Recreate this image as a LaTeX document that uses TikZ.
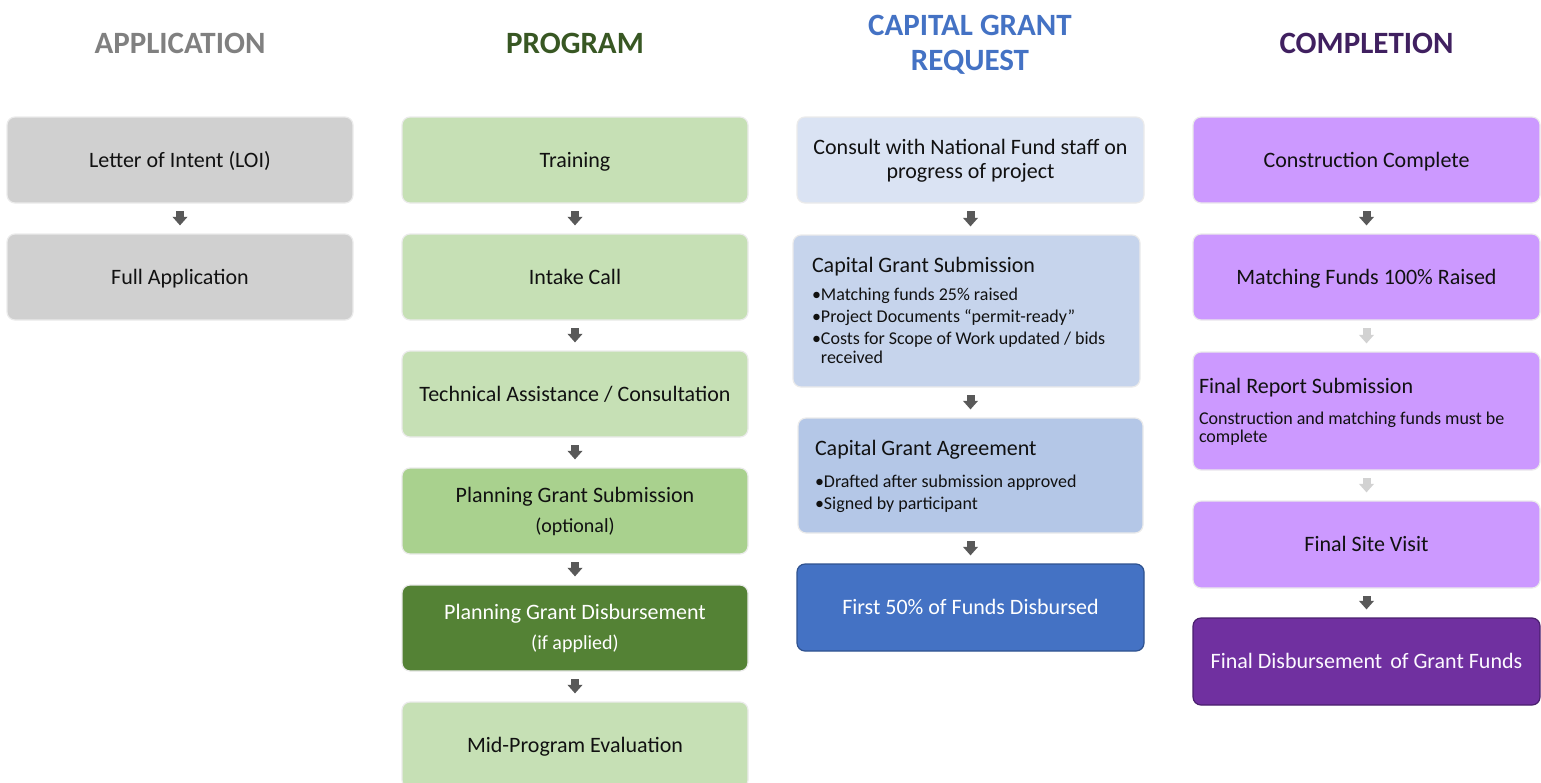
\documentclass[tikz,border=0pt]{standalone}
\usepackage{fontspec}
\setmainfont{Carlito}
\usetikzlibrary{arrows.meta}
\definecolor{txt}{HTML}{111111}
\definecolor{hApp}{HTML}{808080}
\definecolor{hProg}{HTML}{385723}
\definecolor{hCap}{HTML}{4472C4}
\definecolor{hComp}{HTML}{402060}
\definecolor{gbox}{HTML}{D0D0D0}
\definecolor{lgreen}{HTML}{C6E0B5}
\definecolor{mgreen}{HTML}{A9D18E}
\definecolor{dgreen}{HTML}{548235}
\definecolor{blue1}{HTML}{DAE3F3}
\definecolor{blue2}{HTML}{C6D4EC}
\definecolor{blue3}{HTML}{B4C7E7}
\definecolor{blue4}{HTML}{4472C4}
\definecolor{blue4d}{HTML}{2F528F}
\definecolor{lpurple}{HTML}{CC99FF}
\definecolor{dpurple}{HTML}{7030A0}
\definecolor{dpurpled}{HTML}{4A1F6E}
\definecolor{arrdark}{HTML}{595959}
\definecolor{arrlight}{HTML}{D2D2D2}
\newcommand{\mytopstrut}{\rule{0pt}{17pt}}
\newcommand{\mybotstrut}{\rule[-3pt]{0pt}{3pt}}
\newcommand{\mysetup}{\parindent=0pt\lineskiplimit=-30pt\lineskip=0pt\spaceskip=0pt\xspaceskip=0pt}
\begin{document}
\begin{tikzpicture}[x=1pt,y=-1pt,
  box/.style={rounded corners=8pt, minimum width=346pt, minimum height=86pt,
    draw=black!8, line width=1.2pt, inner sep=0pt, text=txt,
    font=\fontsize{22}{26}\selectfont},
  oneline/.style={text height=17pt, text depth=3pt},
  head/.style={font=\bfseries\fontsize{31}{35}\selectfont, anchor=base, inner sep=0pt},
  arr/.style={line width=8pt, draw=arrdark, -{Triangle[width=14.5pt,length=8.5pt]},
    shorten <=7.5pt, shorten >=8pt},
  arrl/.style={arr, draw=arrlight}
]
\useasboundingbox (0,0) rectangle (1541,782);
\clip (0,0) rectangle (1541,782);

% headers
\node[head, text=hApp] (hA) at (180,53) {APPLICATION};
\node[head, text=hProg] (hP) at (575,53) {PROGRAM};
\node[head, text=hCap] (hC) at (970,35) {\parbox[t]{320pt}{\centering CAPITAL GRANT\\REQUEST}};
\node[head, text=hComp] (hM) at (1366.5,53) {COMPLETION};

% column 1
\node[box, oneline, fill=gbox] (loi) at (180,160) {Letter of Intent (LOI)};
\node[box, oneline, fill=gbox] (fa) at (180,277) {Full Application};

% column 2
\node[box, oneline, fill=lgreen] (tr) at (575,160) {Training};
\node[box, oneline, fill=lgreen] (ic) at (575,277) {Intake Call};
\node[box, oneline, fill=lgreen] (ta) at (575,394) {Technical Assistance / Consultation};
\node[box, fill=mgreen, text width=336pt] (pgs) at (575,511)
  {\mysetup\centering{\mytopstrut Planning Grant Submission\par}
   \fontsize{20}{30}\selectfont (optional)\mybotstrut\par};
\node[box, fill=dgreen, text=white, text width=336pt] (pgd) at (575,628)
  {\mysetup\centering{\mytopstrut Planning Grant Disbursement\par}
   \fontsize{20}{30}\selectfont (if applied)\mybotstrut\par};
\node[box, oneline, fill=lgreen] (mpe) at (575,745) {Mid-Program Evaluation};

% column 3
\node[box, fill=blue1, minimum width=347pt, text width=337pt] (con) at (970.5,160)
  {\mysetup\centering\fontsize{22}{24}\selectfont\mytopstrut Consult with National Fund staff on\par
   progress of project\mybotstrut\par};
\node[box, fill=blue2, minimum width=347pt, minimum height=152pt, text width=309pt,
  inner xsep=19pt] (cgs) at (966.5,311)
  {\mysetup\raggedright{\fontsize{22}{26}\selectfont\mytopstrut Capital Grant Submission\par}
   \fontsize{18}{18}\selectfont
   \vspace{10pt}•Matching funds 25\% raised\par
   \vspace{4pt}•Project Documents “permit-ready”\par
   \vspace{4pt}•Costs for Scope of Work updated / bids\par
   \vspace{1pt}\phantom{•}received\mybotstrut\par};
\node[box, fill=blue3, minimum width=345pt, minimum height=115pt, text width=311pt,
  inner xsep=17pt] (cga) at (970.5,475.5)
  {\mysetup\raggedright{\fontsize{22}{26}\selectfont\mytopstrut Capital Grant Agreement\par}
   \fontsize{18}{18}\selectfont
   \vspace{14pt}•Drafted after submission approved\par
   \vspace{4pt}•Signed by participant\mybotstrut\par};
\node[box, oneline, fill=blue4, draw=blue4d, text=white, minimum width=347pt, minimum height=87pt]
  (f50) at (970.5,607.5) {First 50\% of Funds Disbursed};

% column 4
\node[box, oneline, fill=lpurple, minimum width=347pt] (cc) at (1366.5,160) {Construction Complete};
\node[box, oneline, fill=lpurple, minimum width=347pt] (mf) at (1366.5,277) {Matching Funds 100\% Raised};
\node[box, fill=lpurple, minimum width=347pt, minimum height=118pt, text width=335pt,
  inner xsep=6pt] (frs) at (1366.5,411)
  {\mysetup\raggedright{\fontsize{22}{26}\selectfont\mytopstrut Final Report Submission\par}
   \fontsize{18}{18}\selectfont
   \vspace{13pt}Construction and matching funds must be\par
   complete\mybotstrut\par};
\node[box, oneline, fill=lpurple, minimum width=347pt, minimum height=87pt] (fsv) at (1366.5,544.5) {Final Site Visit};
\node[box, oneline, fill=dpurple, draw=dpurpled, text=white!94!lpurple, minimum width=347pt, minimum height=87pt]
  (fd) at (1366.5,661.5) {Final Disbursement\hspace{3pt} of Grant Funds};

% connectors
\draw[arr] (loi) -- (fa);
\draw[arr] (tr) -- (ic);
\draw[arr] (ic) -- (ta);
\draw[arr] (ta) -- (pgs);
\draw[arr] (pgs) -- (pgd);
\draw[arr] (pgd) -- (mpe);
\draw[arr] (con.south) -- (con.south |- cgs.north);
\draw[arr] (cgs.south -| cga.north) -- (cga.north);
\draw[arr] (cga) -- (f50);
\draw[arr] (cc) -- (mf);
\draw[arrl] (mf) -- (frs);
\draw[arrl] (frs) -- (fsv);
\draw[arr] (fsv) -- (fd);
\end{tikzpicture}
\end{document}
